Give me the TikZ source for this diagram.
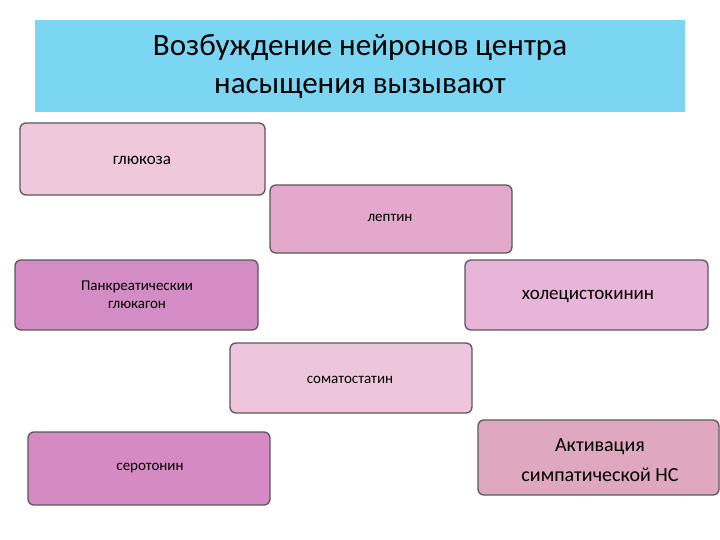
\documentclass[tikz,border=0pt]{standalone}
\usepackage{fontspec}
\setmainfont{Carlito}
\definecolor{ctitle}{RGB}{122,214,242}
\definecolor{c1}{RGB}{240,200,220}
\definecolor{c2}{RGB}{227,168,203}
\definecolor{c3}{RGB}{212,140,196}
\definecolor{c4}{RGB}{232,180,216}
\definecolor{c5}{RGB}{238,198,219}
\definecolor{c6}{RGB}{213,138,196}
\definecolor{c7}{RGB}{224,168,192}
\begin{document}
\begin{tikzpicture}[x=1pt,y=-1pt,
  bx/.style={draw=gray!70!black,line width=1.3pt,rounded corners=6pt,fill=#1},
  lbl/.style={font=\fontsize{15}{18}\selectfont,align=center}]
\useasboundingbox (0,0) rectangle (720,540);
\fill[white] (0,0) rectangle (720,540);
\node[fill=ctitle,minimum width=650pt,minimum height=92pt,anchor=north west,inner sep=0] (title) at (35,20) {};
\node[font=\fontsize{31}{38}\selectfont,align=center] (tt) at (360,66) {Возбуждение нейронов центра\\насыщения вызывают};
\draw[bx=c1] (20,123) rectangle (265,195);
\node[lbl,font=\fontsize{17}{20}\selectfont] (a) at (142,160) {глюкоза};
\draw[bx=c2] (270,185) rectangle (512,253);
\node[lbl] (b) at (390,218) {лептин};
\draw[bx=c3] (15,260) rectangle (258,330);
\node[lbl] (c) at (137,295) {Панкреатическии\\глюкагон};
\draw[bx=c4] (465,260) rectangle (708,330);
\node[lbl,font=\fontsize{19}{22}\selectfont] (d) at (588,296) {холецистокинин};
\draw[bx=c5] (230,343) rectangle (472,413);
\node[lbl] (e) at (350,380) {соматостатин};
\draw[bx=c6] (28,432) rectangle (270,505);
\node[lbl] (f) at (150,468) {серотонин};
\draw[bx=c7] (478,420) rectangle (719,495);
\node[lbl,font=\fontsize{20}{30}\selectfont] (g) at (600,460) {Активация\\симпатической НС};
\end{tikzpicture}
\end{document}
